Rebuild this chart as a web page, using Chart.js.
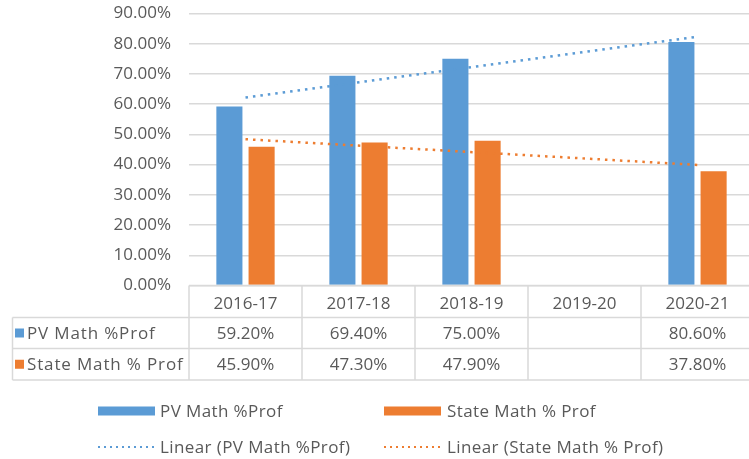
<!DOCTYPE html>
<html>
<head>
<meta charset="utf-8">
<script src="https://cdn.jsdelivr.net/npm/chart.js@4.4.1/dist/chart.umd.min.js"></script>
<style>
html,body{margin:0;padding:0;background:#fff;overflow:hidden;}
#wrap{position:relative;width:760px;height:459px;}
</style>
</head>
<body>
<div id="wrap"><canvas id="c" width="760" height="459"></canvas></div>
<script>
const categories = ['2016-17', '2017-18', '2018-19', '2019-20', '2020-21'];
const pvMath = [59.2, 69.4, 75.0, null, 80.6];
const stateMath = [45.9, 47.3, 47.9, null, 37.8];
const pvTrend = [62.2, null, null, null, 82.3];
const stateTrend = [48.4, null, null, null, 39.9];
const seriesNames = ['PV Math %Prof', 'State Math % Prof'];
const trendNames = ['Linear (PV Math %Prof)', 'Linear (State Math % Prof)'];
const yTicks = [0, 10, 20, 30, 40, 50, 60, 70, 80, 90];

const BLUE = '#5b9bd5', ORANGE = '#ed7d31', TEXT = '#595959', GRID = '#d9d9d9';
const FONT = 'Open Sans';
const FS = 17;

const tablePlugin = {
  id: 'dataTable',
  afterDraw(chart) {
    const ctx = chart.ctx, xs = chart.scales.x, ca = chart.chartArea;
    const w = xs.getPixelForValue(1) - xs.getPixelForValue(0);
    const y0 = ca.bottom, y1 = 317.5, y2 = 348.5, y3 = 380;
    const leftX = 12.5, rightX = chart.width;
    ctx.save();
    ctx.strokeStyle = GRID;
    ctx.lineWidth = 1.5;
    ctx.beginPath();
    ctx.moveTo(ca.left, y0); ctx.lineTo(rightX, y0);
    [y1, y2, y3].forEach(y => { ctx.moveTo(leftX, y); ctx.lineTo(rightX, y); });
    ctx.moveTo(leftX, y1); ctx.lineTo(leftX, y3);
    for (let i = 0; i <= categories.length; i++) {
      const ex = xs.getPixelForValue(0) - w / 2 + i * w;
      ctx.moveTo(ex, y0); ctx.lineTo(ex, y3);
    }
    ctx.stroke();
    ctx.font = FS + 'px "' + FONT + '"';
    ctx.fillStyle = TEXT;
    ctx.textAlign = 'center';
    ctx.textBaseline = 'middle';
    const rows = [pvMath, stateMath];
    const rowY = [(y1 + y2) / 2, (y2 + y3) / 2];
    const colors = [BLUE, ORANGE];
    rows.forEach((r, ri) => {
      r.forEach((v, i) => {
        if (v === null) return;
        ctx.fillText(v.toFixed(2) + '%', xs.getPixelForValue(i), rowY[ri] + 1);
      });
    });
    ctx.textAlign = 'left';
    ctx.letterSpacing = '0.85px';
    rows.forEach((r, ri) => {
      ctx.fillStyle = colors[ri];
      ctx.fillRect(15, rowY[ri] - 4.5, 9, 9);
      ctx.fillStyle = TEXT;
      ctx.fillText(seriesNames[ri], 27, rowY[ri] + 1);
    });
    // legend
    ctx.letterSpacing = '0.4px';
    const lx = [98, 384], ltx = [160, 447], ly = [411, 447];
    for (let k = 0; k < 2; k++) {
      ctx.fillStyle = colors[k];
      ctx.fillRect(lx[k], ly[0] - 4.5, 57, 9);
      ctx.fillStyle = TEXT;
      ctx.fillText(seriesNames[k], ltx[k], ly[0] + 1);
      ctx.strokeStyle = colors[k];
      ctx.lineWidth = 2;
      ctx.setLineDash([2, 4]);
      ctx.beginPath();
      ctx.moveTo(lx[k], ly[1]); ctx.lineTo(lx[k] + 56, ly[1]);
      ctx.stroke();
      ctx.setLineDash([]);
      ctx.fillText(trendNames[k], ltx[k], ly[1] + 1);
    }
    ctx.restore();
  }
};

new Chart(document.getElementById('c'), {
  data: {
    labels: categories,
    datasets: [
      { type: 'line', label: trendNames[0], data: pvTrend, borderColor: BLUE, borderWidth: 2.5,
        borderDash: [2.5, 5], pointRadius: 0, spanGaps: true, fill: false, order: 0 },
      { type: 'line', label: trendNames[1], data: stateTrend, borderColor: ORANGE, borderWidth: 2.5,
        borderDash: [2.5, 5], pointRadius: 0, spanGaps: true, fill: false, order: 0 },
      { type: 'bar', label: seriesNames[0], data: pvMath, backgroundColor: BLUE,
        categoryPercentage: 0.57, barPercentage: 0.81, order: 1 },
      { type: 'bar', label: seriesNames[1], data: stateMath, backgroundColor: ORANGE,
        categoryPercentage: 0.57, barPercentage: 0.81, order: 1 }
    ]
  },
  options: {
    responsive: false,
    animation: false,
    devicePixelRatio: 1,
    layout: { padding: { top: 13.5, right: 6, left: 0, bottom: 0 } },
    plugins: { legend: { display: false }, tooltip: { enabled: false } },
    scales: {
      x: {
        offset: true,
        grid: { display: false, drawTicks: false },
        border: { display: false },
        ticks: { color: TEXT, font: { family: FONT, size: FS }, padding: 8, maxRotation: 0 },
        afterFit(s) { s.height = 459 - 285.5; s.paddingLeft = 0; s.paddingRight = 0; }
      },
      y: {
        min: 0, max: 90,
        afterBuildTicks(s) { s.ticks = yTicks.map(v => ({ value: v })); },
        grid: { color: GRID, lineWidth: 1.5, drawTicks: false },
        border: { display: false },
        ticks: { color: TEXT, font: { family: FONT, size: FS }, padding: 18,
          callback: v => Number(v).toFixed(2) + '%' },
        afterFit(s) { s.width = 189; s.paddingTop = 0; s.paddingBottom = 0; }
      }
    }
  },
  plugins: [tablePlugin]
});
</script>
</body>
</html>
